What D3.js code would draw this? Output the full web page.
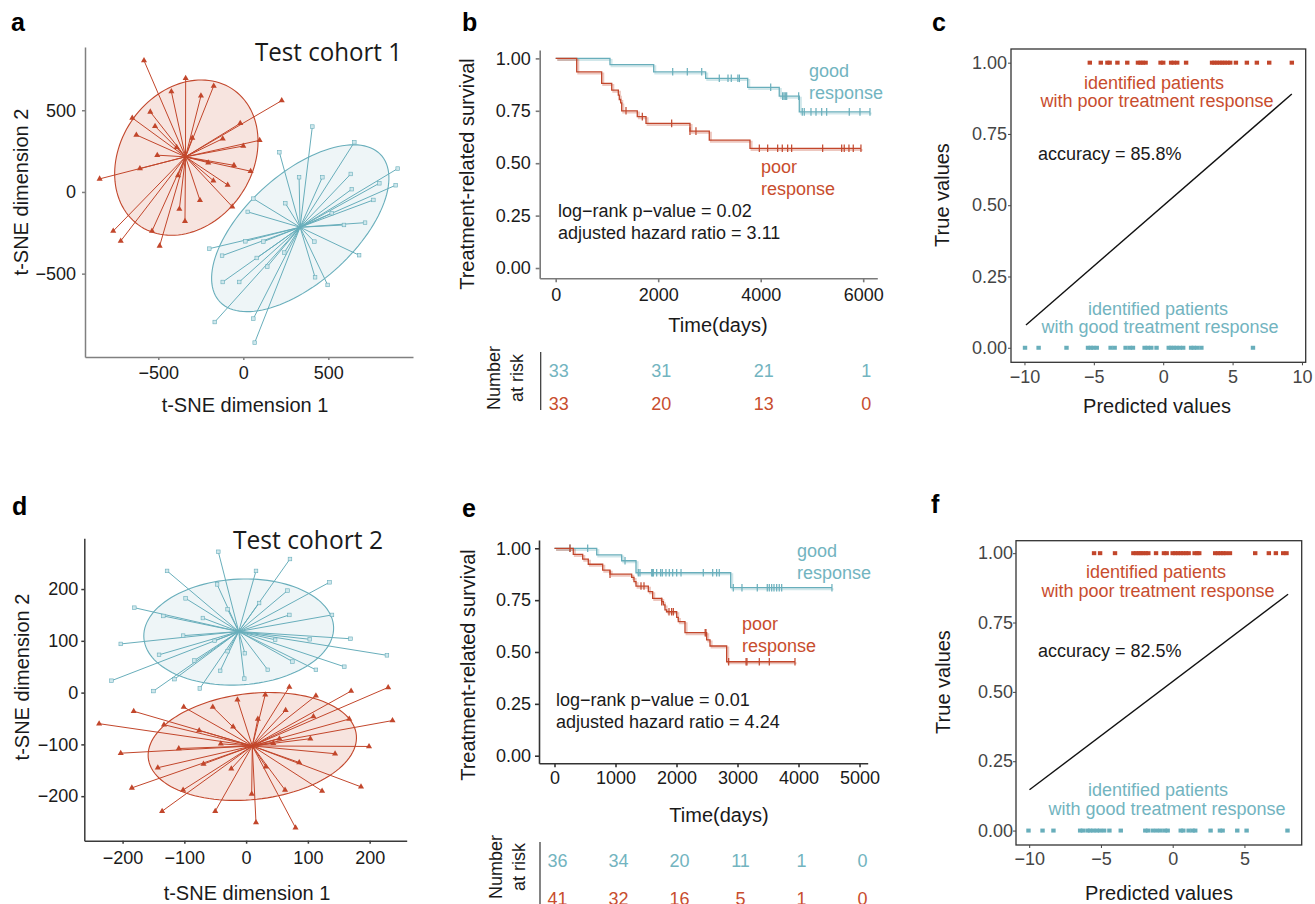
<!DOCTYPE html>
<html>
<head>
<meta charset="utf-8">
<script src="https://cdn.jsdelivr.net/npm/d3@7"></script>
<style>
	body { margin: 0; background: #fff; }
	svg text { font-family: "Liberation Sans", Arial, sans-serif; }
</style>
</head>
<body>
<svg id="fig" width="1315" height="904"></svg>
<script>
// colours
var RED = "#c2462b";
var TEAL = "#68aebb";
var RED_TEXT = "#c84d2e";
var TEAL_TEXT = "#72b4c0";
var RED_FILL = "#f7e4df";
var TEAL_FILL = "#eef5f7";

// ---------- t-SNE, test cohort 1 ----------
var c1PoorCenter = [-340, 215];
var c1Poor = [[-584,804],[-339,696],[-423,614],[-249,588],[-174,649],[226,559],[-547,490],[-653,453],
	[-519,402],[-629,349],[-18,420],[-121,326],[96,316],[0,281],[-506,225],[-206,179],[-55,163],
	[43,127],[-608,143],[-845,80],[-176,69],[-92,43],[-384,100],[-255,-51],[-65,-90],[-376,-104],
	[-343,-179],[-537,-239],[-765,-239],[-721,-300],[-492,-330],[-392,273],[-300,330]];
var c1GoodCenter = [334, -216];
var c1Good = [[406,400],[212,243],[653,304],[908,143],[896,41],[800,53],[765,-49],[632,110],[638,17],
	[328,90],[465,90],[247,-69],[59,-41],[26,-122],[520,-130],[592,-202],[716,-188],[681,-387],
	[418,-304],[12,-302],[118,-304],[-200,-347],[-125,-390],[79,-404],[241,-371],[141,-457],
	[-121,-551],[-24,-551],[422,-522],[496,-569],[59,-775],[-168,-796],[67,-922]];
// fitted ellipses: centre x, centre y, radius 1, radius 2, angle (deg)
var c1PoorEllipse = [-335, 210, 500, 392, 60];
var c1GoodEllipse = [335, -222, 653, 326, 44];

// ---------- t-SNE, test cohort 2 ----------
var c2GoodCenter = [-12, 118];
var c2Good = [[-45,272],[71,258],[-128,235],[16,235],[135,213],[-47,209],[67,197],[-98,182],[21,173],
	[-181,164],[-30,161],[-134,148],[-70,144],[70,150],[139,150],[-102,110],[-203,94],[169,104],
	[103,103],[47,102],[228,72],[-2,76],[-141,73],[159,50],[75,60],[113,44],[35,44],[-42,42],
	[-84,62],[-3,27],[-218,23],[-116,26],[-75,8],[-150,3],[-51,100],[-30,80]];
var c2PoorCenter = [10, -103];
var c2Poor = [[70,11],[31,-4],[230,10],[170,3],[113,-6],[-14,-14],[-54,-28],[-101,-28],[64,-34],
	[-182,-36],[237,-54],[109,-46],[167,-51],[19,-51],[-238,-60],[-133,-62],[-21,-66],[-76,-73],
	[54,-89],[104,-89],[-41,-99],[199,-104],[-109,-108],[-203,-117],[144,-118],[-69,-138],
	[32,-143],[-143,-145],[-24,-147],[86,-135],[-185,-184],[186,-182],[-102,-188],[63,-188],
	[123,-190],[9,-196],[-136,-229],[-50,-229],[16,-251],[80,-261],[44,-98]];
var c2GoodEllipse = [-12, 117, 154, 102, 5];
var c2PoorEllipse = [10, -104, 170, 102, 9];

// ---------- Kaplan-Meier, cohort 1 ----------
var kmTicksB = [0, 2000, 4000, 6000];
var kmGoodB = [[0,1],[1059,0.970],[1912,0.936],[2926,0.905],[3746,0.862],[4362,0.820],[4753,0.745]];
var kmGoodCensB = [2283,2568,2849,3192,3362,3426,3555,3585,4195,4428,4455,4480,4507,4741,4811,
	4850,4981,5079,5190,5287,5728,5937,6132];
var kmPoorB = [[0,1],[410,0.936],[897,0.881],[1093,0.849],[1222,0.825],[1241,0.804],[1268,0.788],
	[1288,0.750],[1592,0.722],[1762,0.690],[2620,0.653],[2997,0.610],[3791,0.571]];
var kmPoorCensB = [1372,1690,2263,2620,2737,3973,4136,4331,4421,4526,4604,5209,5580,5630,5722,5806,5956];
var riskGoodB = [33, 31, 21, 1];
var riskPoorB = [33, 20, 13, 0];

// ---------- Kaplan-Meier, cohort 2 ----------
var kmTicksE = [0, 1000, 2000, 3000, 4000, 5000];
var kmGoodE = [[0,1],[692,0.968],[1101,0.940],[1336,0.882],[2888,0.810]];
var kmGoodCensE = [254,544,1156,1374,1401,1593,1609,1620,1675,1740,1767,1827,1882,1937,2003,2074,
	2439,2593,2658,2701,2931,3073,3324,3488,3521,3560,3598,3642,3684,3724,4548];
var kmPoorE = [[0,1],[308,0.971],[462,0.948],[554,0.923],[790,0.895],[910,0.875],[1265,0.860],
	[1303,0.839],[1336,0.818],[1538,0.791],[1609,0.759],[1757,0.743],[1784,0.727],[1811,0.703],
	[1839,0.694],[2003,0.667],[2029,0.646],[2139,0.593],[2494,0.558],[2549,0.529],[2822,0.453]];
var kmPoorCensE = [254,910,1418,1467,1757,1877,1920,1948,2470,2483,2855,3140,3155,3357,3521,3942];
var riskGoodE = [36, 34, 20, 11, 1, 0];
var riskPoorE = [41, 32, 16, 5, 1, 0];

// ---------- predictions ----------
var survTicks = [0, 0.25, 0.5, 0.75, 1];
var predPoorC = [-5.29,-4.50,-4.02,-3.86,-3.30,-2.59,-1.82,-1.63,-1.47,-1.27,-0.19,0,0.57,0.76,1.01,
	1.65,3.52,3.69,3.88,4.07,4.26,4.43,4.64,4.83,5.24,6.03,6.75,7.64,9.27];
var predGoodC = [-9.96,-8.98,-6.97,-5.42,-5.22,-5.03,-4.79,-3.79,-3.50,-2.71,-2.40,-2.18,-1.34,-1.11,
	-0.86,-0.48,0.40,0.57,0.76,0.96,1.19,1.44,2.01,2.20,2.44,2.75,6.47];
var fitC = [[-9.89,0.080],[9.27,0.890]];
var predPoorF = [-5.48,-5.06,-4.02,-2.74,-2.55,-2.37,-2.23,-2.05,-1.88,-1.70,-1.16,-0.61,-0.42,0,0.18,
	0.37,0.56,0.74,0.93,1.11,1.53,1.71,1.85,2.96,3.15,3.34,3.52,3.71,3.99,5.75,6.70,7.19,7.70,7.93];
var predGoodF = [-10.05,-9.07,-8.31,-6.45,-6.26,-5.94,-5.76,-5.53,-5.29,-5.06,-4.78,-4.41,-3.62,-1.91,
	-1.72,-1.39,-1.11,-0.84,-0.54,-0.35,0.56,0.74,1.11,1.39,1.57,2.64,3.29,3.48,4.50,5.15,8.00];
var fitF = [[-9.98,0.147],[8.04,0.852]];

var svg = d3.select("#fig");

// small text helper
function txt(s, x, y, o) {
	o = o || {};
	var t = svg.append("text")
		.attr("x", x).attr("y", y)
		.style("font-size", (o.size || 18) + "px")
		.style("fill", o.color || "#1a1a1a")
		.attr("text-anchor", o.anchor || "start")
		.text(s);
	if (o.rotate) t.attr("transform", "rotate(-90," + x + "," + y + ")");
	if (o.bold) t.style("font-weight", "bold");
	if (o.family) t.style("font-family", o.family);
	if (o.len) t.attr("textLength", o.len).attr("lengthAdjust", "spacingAndGlyphs");
	return t;
}

function styleAxis(sel, o) {
	sel.selectAll("path, line").style("stroke", o.stroke).style("stroke-width", o.width || 1.3);
	sel.selectAll("text").style("font-size", "18px").style("fill", o.text || "#1a1a1a")
		.style("font-family", '"Liberation Sans", Arial, sans-serif');
	if (o.noDomain) sel.select(".domain").remove();
}

function drawTsne(o) {
	var x = d3.scaleLinear().domain(o.xDomain).range(o.xRange);
	var y = d3.scaleLinear().domain(o.yDomain).range(o.yRange);
	var g = svg.append("g");

	// ellipses under the spokes
	o.groups.forEach(function(grp) {
		var e = grp.ellipse, a = e[4] * Math.PI / 180;
		var ring = d3.range(0, 360, 3).map(function(deg) {
			var t = deg * Math.PI / 180;
			return [e[0] + e[2] * Math.cos(t) * Math.cos(a) - e[3] * Math.sin(t) * Math.sin(a),
				e[1] + e[2] * Math.cos(t) * Math.sin(a) + e[3] * Math.sin(t) * Math.cos(a)];
		});
		g.append("path")
			.attr("d", d3.line().x(function(d) { return x(d[0]); }).y(function(d) { return y(d[1]); })
				.curve(d3.curveLinearClosed)(ring))
			.style("fill", grp.fill)
			.style("stroke", grp.color)
			.style("stroke-width", 1.1);
	});

	// spokes + end markers
	o.groups.forEach(function(grp) {
		g.selectAll(null).data(grp.points).enter().append("line")
			.attr("x1", x(grp.center[0])).attr("y1", y(grp.center[1]))
			.attr("x2", function(d) { return x(d[0]); })
			.attr("y2", function(d) { return y(d[1]); })
			.style("stroke", grp.color)
			.style("stroke-width", 1);
		if (grp.shape === "triangle") {
			g.selectAll(null).data(grp.points).enter().append("path")
				.attr("d", d3.symbol(d3.symbolTriangle, 16))
				.attr("transform", function(d) { return "translate(" + x(d[0]) + "," + y(d[1]) + ")"; })
				.style("fill", grp.color);
		} else {
			g.selectAll(null).data(grp.points).enter().append("rect")
				.attr("x", function(d) { return x(d[0]) - 1.8; })
				.attr("y", function(d) { return y(d[1]) - 1.8; })
				.attr("width", 3.6).attr("height", 3.6)
				.style("fill", "#cfe7ec")
				.style("stroke", grp.color)
				.style("stroke-width", 0.6);
		}
	});

	// axes
	var xa = g.append("g")
		.attr("transform", "translate(0," + o.yRange[0] + ")")
		.call(d3.axisBottom(x).tickValues(o.xTicks).tickSize(3).tickSizeOuter(0).tickPadding(o.xPad));
	styleAxis(xa, { stroke: o.axisColor, width: 1.5 });
	var ya = g.append("g")
		.attr("transform", "translate(" + o.xRange[0] + ",0)")
		.call(d3.axisLeft(y).tickValues(o.yTicks).tickSize(3).tickSizeOuter(0).tickPadding(o.yPad));
	styleAxis(ya, { stroke: o.axisColor, width: 1.5 });
}

function drawKM(o) {
	var x = d3.scaleLinear().domain(o.xDomain).range(o.xRange);
	var y = d3.scaleLinear().domain(o.yDomain).range(o.yRange);
	var g = svg.append("g");
	var line = d3.line()
		.x(function(d) { return x(d[0]); })
		.y(function(d) { return y(d[1]); })
		.curve(d3.curveStepAfter);

	o.curves.forEach(function(c) {
		var end = d3.max(c.censors);
		var pts = c.steps.concat([[end, c.steps[c.steps.length - 1][1]]]);
		// faint ghost of the curve, as in the original
		g.append("path").attr("d", line(pts))
			.attr("transform", "translate(1.6,1.6)")
			.style("fill", "none").style("stroke", c.color)
			.style("stroke-width", 2).style("opacity", 0.3);
		g.append("path").attr("d", line(pts))
			.style("fill", "none").style("stroke", c.color).style("stroke-width", 1.3);

		function level(t) {
			var s = 1;
			c.steps.forEach(function(p) { if (p[0] <= t) s = p[1]; });
			return s;
		}
		g.selectAll(null).data(c.censors).enter().append("line")
			.attr("x1", function(d) { return x(d); })
			.attr("x2", function(d) { return x(d); })
			.attr("y1", function(d) { return y(level(d)) - 3.8; })
			.attr("y2", function(d) { return y(level(d)) + 3.8; })
			.style("stroke", c.color).style("stroke-width", 1.2);
	});

	var xa = g.append("g")
		.attr("transform", "translate(0," + o.axisY + ")")
		.call(d3.axisBottom(x).tickValues(o.xTicks).tickFormat(d3.format("d"))
			.tickSize(4).tickSizeOuter(0).tickPadding(o.xPad));
	styleAxis(xa, { stroke: o.axisColor, width: 1.6 });
	var ya = g.append("g")
		.attr("transform", "translate(" + o.axisX + ",0)")
		.call(d3.axisLeft(y).tickValues(survTicks).tickFormat(d3.format(".2f"))
			.tickSize(4).tickSizeOuter(0).tickPadding(o.yPad));
	styleAxis(ya, { stroke: o.axisColor, width: 1.6 });

	// number at risk table
	var rt = o.risk;
	svg.append("line")
		.attr("x1", o.axisX + 1).attr("x2", o.axisX + 1)
		.attr("y1", rt.top).attr("y2", rt.bottom)
		.style("stroke", "#333").style("stroke-width", 1.2);
	rt.rows.forEach(function(row) {
		svg.selectAll(null).data(row.values).enter().append("text")
			.attr("x", function(d, i) { return x(o.xTicks[i]) + 3; })
			.attr("y", row.y)
			.attr("text-anchor", "middle")
			.style("font-size", "18px")
			.style("fill", row.color)
			.text(function(d) { return d; });
	});
	txt("Number", rt.labelX, rt.labelY, { rotate: true, anchor: "middle" });
	txt("at risk", rt.labelX + 23, rt.labelY, { rotate: true, anchor: "middle" });
}

function drawPred(o) {
	var x = d3.scaleLinear().domain(o.xDomain).range(o.xRange);
	var y = d3.scaleLinear().domain(o.yDomain).range(o.yRange);
	var g = svg.append("g");

	g.append("rect")
		.attr("x", o.xRange[0]).attr("y", o.yRange[1])
		.attr("width", o.xRange[1] - o.xRange[0])
		.attr("height", o.yRange[0] - o.yRange[1])
		.style("fill", "none").style("stroke", "#333").style("stroke-width", 1.3);

	var xa = g.append("g")
		.attr("transform", "translate(0," + o.yRange[0] + ")")
		.call(d3.axisBottom(x).tickValues(o.xTicks).tickSize(3).tickPadding(o.xPad));
	styleAxis(xa, { stroke: "#444", width: 1, text: "#454545", noDomain: true });
	var ya = g.append("g")
		.attr("transform", "translate(" + o.xRange[0] + ",0)")
		.call(d3.axisLeft(y).tickValues(survTicks).tickFormat(d3.format(".2f")).tickSize(3).tickPadding(o.yPad));
	styleAxis(ya, { stroke: "#444", width: 1, text: "#454545", noDomain: true });

	[{ v: o.poor, yv: 1, color: RED }, { v: o.good, yv: 0, color: TEAL }].forEach(function(s) {
		g.selectAll(null).data(s.v).enter().append("rect")
			.attr("x", function(d) { return x(d) - 2.2; })
			.attr("y", y(s.yv) - 2)
			.attr("width", 4.4).attr("height", 4)
			.style("fill", s.color);
	});

	g.append("line")
		.attr("x1", x(o.fit[0][0])).attr("y1", y(o.fit[0][1]))
		.attr("x2", x(o.fit[1][0])).attr("y2", y(o.fit[1][1]))
		.style("stroke", "#111").style("stroke-width", 1.4);
}

// ================= panel a =================
drawTsne({
	xDomain: [-931, 998], xRange: [85, 413],
	yDomain: [-1010, 887], yRange: [357, 47],
	xTicks: [-500, 0, 500], yTicks: [-500, 0, 500],
	xPad: 6, yPad: 6, axisColor: "#808080",
	groups: [
		{ center: c1PoorCenter, points: c1Poor, ellipse: c1PoorEllipse, color: RED, fill: RED_FILL, shape: "triangle" },
		{ center: c1GoodCenter, points: c1Good, ellipse: c1GoodEllipse, color: TEAL, fill: TEAL_FILL, shape: "square" }
	]
});
txt("Test cohort 1", 255, 61, { size: 26, family: '"Open Sans", sans-serif', len: 147 });
txt("t-SNE dimension 1", 245, 412, { size: 20, anchor: "middle" });
txt("t-SNE dimension 2", 28, 192, { size: 20, anchor: "middle", rotate: true });

// ================= panel d =================
drawTsne({
	xDomain: [-262, 260], xRange: [84.3, 406.7],
	yDomain: [-286, 298], yRange: [840.7, 538.3],
	xTicks: [-200, -100, 0, 100, 200], yTicks: [-200, -100, 0, 100, 200],
	xPad: 8, yPad: 3, axisColor: "#3a3a3a",
	groups: [
		{ center: c2GoodCenter, points: c2Good, ellipse: c2GoodEllipse, color: TEAL, fill: TEAL_FILL, shape: "square" },
		{ center: c2PoorCenter, points: c2Poor, ellipse: c2PoorEllipse, color: RED, fill: RED_FILL, shape: "triangle" }
	]
});
txt("Test cohort 2", 233, 549, { size: 26, family: '"Open Sans", sans-serif', len: 150 });
txt("t-SNE dimension 1", 247, 900, { size: 20, anchor: "middle" });
txt("t-SNE dimension 2", 29, 677, { size: 20, anchor: "middle", rotate: true });

// ================= panel b =================
drawKM({
	xDomain: [-312, 6275], xRange: [539.7, 877.3],
	yDomain: [-0.049, 1.040], yRange: [278.3, 50],
	axisX: 539.7, axisY: 278.3, xTicks: kmTicksB,
	xPad: 6, yPad: 5, axisColor: "#7a7a7a",
	curves: [
		{ steps: kmGoodB, censors: kmGoodCensB, color: TEAL },
		{ steps: kmPoorB, censors: kmPoorCensB, color: RED }
	],
	risk: {
		top: 352, bottom: 410, labelX: 500, labelY: 378,
		rows: [{ values: riskGoodB, y: 377, color: TEAL_TEXT }, { values: riskPoorB, y: 410, color: RED_TEXT }]
	}
});
txt("good", 809, 77, { color: TEAL_TEXT });
txt("response", 809, 99, { color: TEAL_TEXT });
txt("poor", 761, 173, { color: RED_TEXT });
txt("response", 761, 195, { color: RED_TEXT });
txt("log\u2212rank p\u2212value = 0.02", 558, 217);
txt("adjusted hazard ratio = 3.11", 558, 239);
txt("Time(days)", 718, 332, { size: 20, anchor: "middle" });
txt("Treatment-related survival", 474, 174, { size: 20, anchor: "middle", rotate: true });

// ================= panel e =================
drawKM({
	xDomain: [-254, 5134], xRange: [539, 867.7],
	yDomain: [-0.0366, 1.040], yRange: [763.3, 540],
	axisX: 539, axisY: 763.3, xTicks: kmTicksE,
	xPad: 4, yPad: 4, axisColor: "#333",
	curves: [
		{ steps: kmGoodE, censors: kmGoodCensE, color: TEAL },
		{ steps: kmPoorE, censors: kmPoorCensE, color: RED }
	],
	risk: {
		top: 842, bottom: 904, labelX: 502, labelY: 867,
		rows: [{ values: riskGoodE, y: 867, color: TEAL_TEXT }, { values: riskPoorE, y: 905, color: RED_TEXT }]
	}
});
txt("good", 797, 557, { color: TEAL_TEXT });
txt("response", 797, 579, { color: TEAL_TEXT });
txt("poor", 742, 630, { color: RED_TEXT });
txt("response", 742, 652, { color: RED_TEXT });
txt("log\u2212rank p\u2212value = 0.01", 556, 706);
txt("adjusted hazard ratio = 4.24", 556, 728);
txt("Time(days)", 719, 822, { size: 20, anchor: "middle" });
txt("Treatment-related survival", 475, 665, { size: 20, anchor: "middle", rotate: true });

// ================= panel c =================
drawPred({
	xDomain: [-10.97, 10.27], xRange: [1011, 1305.7],
	yDomain: [-0.051, 1.048], yRange: [362.3, 49],
	xTicks: [-10, -5, 0, 5, 10], xPad: 5, yPad: 1,
	poor: predPoorC, good: predGoodC, fit: fitC
});
txt("identified patients", 1154, 89, { color: RED_TEXT, anchor: "middle" });
txt("with poor treatment response", 1157, 107, { color: RED_TEXT, anchor: "middle" });
txt("accuracy = 85.8%", 1038, 160);
txt("identified patients", 1158, 315, { color: TEAL_TEXT, anchor: "middle" });
txt("with good treatment response", 1160, 333, { color: TEAL_TEXT, anchor: "middle" });
txt("Predicted values", 1157, 413, { size: 20, anchor: "middle" });
txt("True values", 949, 195, { size: 20, anchor: "middle", rotate: true });

// ================= panel f =================
drawPred({
	xDomain: [-10.92, 8.99], xRange: [1016, 1301.7],
	yDomain: [-0.052, 1.045], yRange: [845, 540.7],
	xTicks: [-10, -5, 0, 5], xPad: 4, yPad: 0,
	poor: predPoorF, good: predGoodF, fit: fitF
});
txt("identified patients", 1156, 578, { color: RED_TEXT, anchor: "middle" });
txt("with poor treatment response", 1158, 597, { color: RED_TEXT, anchor: "middle" });
txt("accuracy = 82.5%", 1038, 657);
txt("identified patients", 1158, 796, { color: TEAL_TEXT, anchor: "middle" });
txt("with good treatment response", 1167, 815, { color: TEAL_TEXT, anchor: "middle" });
txt("Predicted values", 1159, 900, { size: 20, anchor: "middle" });
txt("True values", 950, 682, { size: 20, anchor: "middle", rotate: true });

// panel letters
[["a", 11, 31], ["b", 462, 31], ["c", 932, 31], ["d", 12, 515], ["e", 462, 517], ["f", 931, 513]]
	.forEach(function(l) { txt(l[0], l[1], l[2], { size: 25, bold: true, color: "#000" }); });
</script>
</body>
</html>
